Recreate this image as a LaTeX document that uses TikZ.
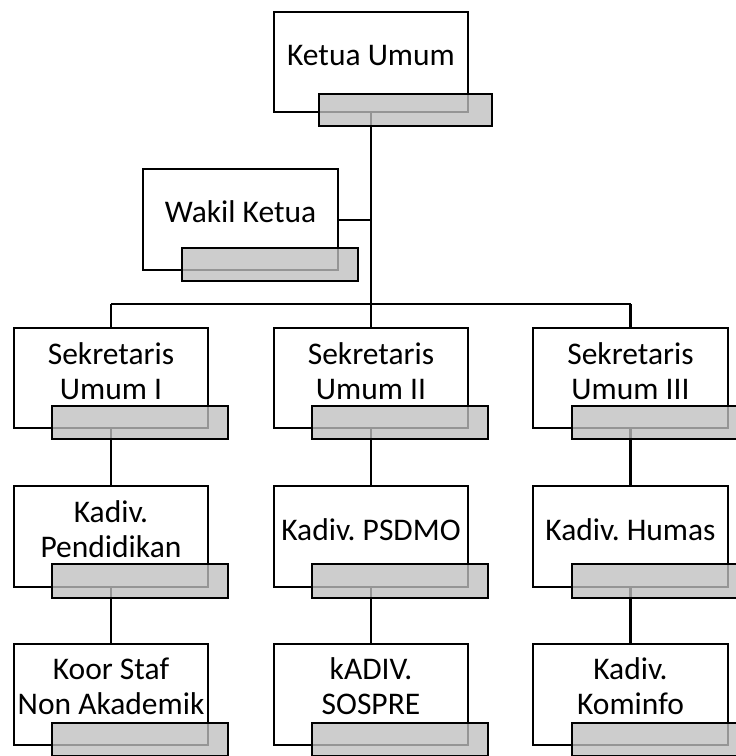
\documentclass[tikz,border=0pt]{standalone}
\usepackage{fontspec}
\setmainfont{Carlito}
\frenchspacing
\begin{document}
\begin{tikzpicture}[x=1pt,y=1pt,
  orgbox/.style={draw=black, line width=2.5pt, fill=white, rectangle, inner sep=0pt, minimum width=194pt, minimum height=100pt},
  titlebar/.style={draw=black, line width=2.5pt, fill={rgb,255:red,192;green,192;blue,192}, fill opacity=0.78, draw opacity=1, rectangle, inner sep=0pt, minimum width=176pt, minimum height=33pt},
  lbl/.style={anchor=base, align=center, inner sep=0pt, font=\fontsize{31.5}{35}\selectfont},
  conn/.style={draw=black, line width=2.5pt}
]
\clip (0,0) rectangle (736,-756);
\fill[white] (0,0) rectangle (736,-756);

% white boxes
\node[orgbox] (ketua) at (371,-62) {};
\node[orgbox, minimum width=195pt, minimum height=101pt] (wakil) at (240.5,-219.5) {};
\node[orgbox] (s1) at (111,-378) {};
\node[orgbox] (s2) at (371,-378) {};
\node[orgbox, minimum width=195pt] (s3) at (630.5,-378) {};
\node[orgbox, minimum height=101pt] (k1) at (111,-536.5) {};
\node[orgbox, minimum height=101pt] (k2) at (371,-536.5) {};
\node[orgbox, minimum width=195pt, minimum height=101pt] (k3) at (630.5,-536.5) {};
\node[orgbox, minimum height=101pt] (n1) at (111,-694.5) {};
\node[orgbox, minimum height=101pt] (n2) at (371,-694.5) {};
\node[orgbox, minimum width=195pt, minimum height=101pt] (n3) at (630.5,-694.5) {};

% connectors
\coordinate (busL) at (111,-304);
\coordinate (busM) at (371,-304);
\coordinate (busR) at (630.5,-304);
\coordinate (wj) at (371,-220);
\draw[conn] (ketua.south) -- (busM);
\draw[conn] (wakil.east |- wj) -- (wj);
\draw[conn] (busL) -- (busR);
\draw[conn] (busL) -- (s1.north);
\draw[conn] (busM) -- (s2.north);
\draw[conn] (busR) -- (s3.north);
\draw[conn] (s1.south) -- (k1.north);
\draw[conn] (s2.south) -- (k2.north);
\draw[conn] (s3.south) -- (k3.north);
\draw[conn] (k1.south) -- (n1.north);
\draw[conn] (k2.south) -- (n2.north);
\draw[conn] (k3.south) -- (n3.north);

% gray title bars
\node[titlebar, minimum width=173pt, minimum height=32pt] (ketuaB) at (405.5,-110) {};
\node[titlebar] (wakilB) at (270,-264.5) {};
\node[titlebar] (s1B) at (140,-422.5) {};
\node[titlebar] (s2B) at (400,-422.5) {};
\node[titlebar] (s3B) at (660,-422.5) {};
\node[titlebar, minimum height=34pt] (k1B) at (140,-581) {};
\node[titlebar, minimum height=34pt] (k2B) at (400,-581) {};
\node[titlebar, minimum height=34pt] (k3B) at (660,-581) {};
\node[titlebar] (n1B) at (140,-739.5) {};
\node[titlebar] (n2B) at (400,-739.5) {};
\node[titlebar] (n3B) at (660,-739.5) {};

% labels
\node[lbl] (ketuaT) at (371,-65) {Ketua Umum};
\node[lbl] (wakilT) at (240.5,-222) {Wakil Ketua};
\node[lbl] (s1T) at (111,-399) {Sekretaris\\Umum I};
\node[lbl] (s2T) at (371,-399) {Sekretaris\\Umum II};
\node[lbl] (s3T) at (630.5,-399) {Sekretaris\\Umum III};
\node[lbl] (k1T) at (111,-557) {Kadiv.\\Pendidikan};
\node[lbl] (k2T) at (371,-540) {Kadiv. PSDMO};
\node[lbl] (k3T) at (630.5,-540) {Kadiv. Humas};
\node[lbl] (n1T) at (111,-714) {Koor Staf\\Non Akademik};
\node[lbl] (n2T) at (371,-714) {kADIV.\\SOSPRE};
\node[lbl] (n3T) at (630.5,-714) {Kadiv.\\Kominfo};
\end{tikzpicture}
\end{document}
